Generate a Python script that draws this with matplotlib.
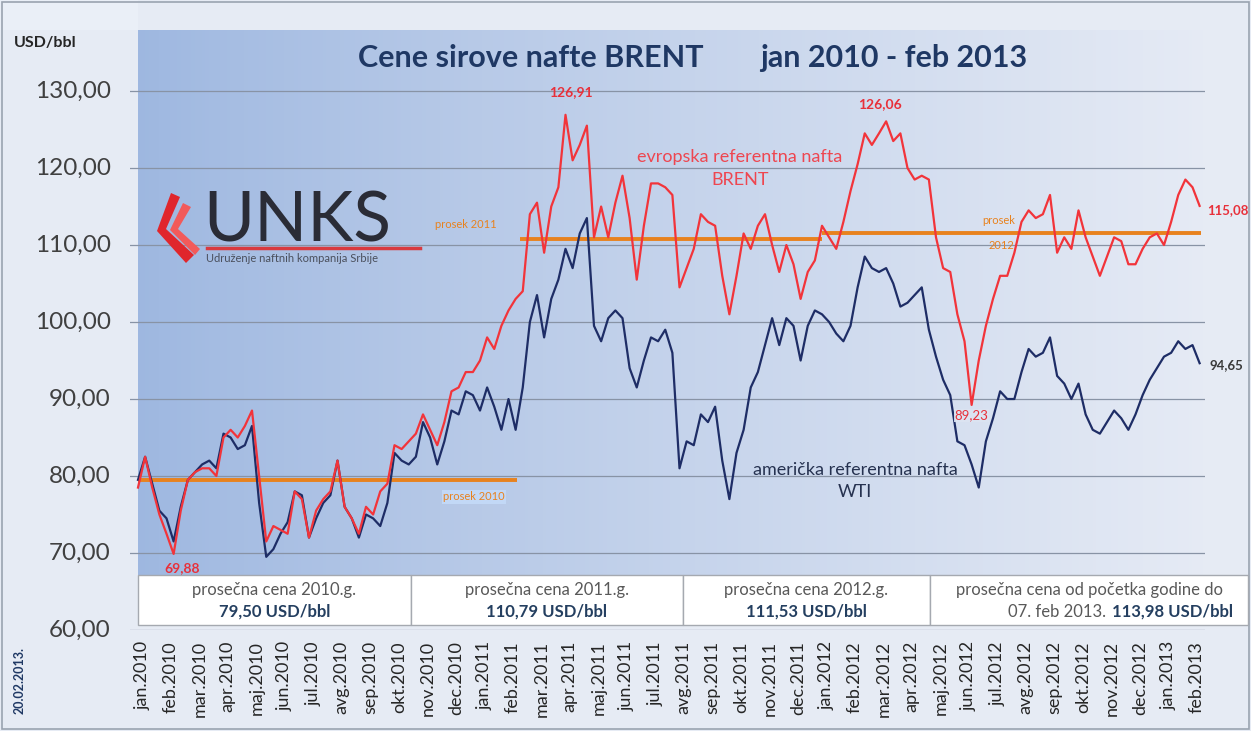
import numpy as np
import matplotlib
matplotlib.use('Agg')
import matplotlib.pyplot as plt
from matplotlib.patches import Rectangle, Polygon
from matplotlib.lines import Line2D

plt.rcParams['font.family'] = ['Lato', 'DejaVu Sans']

W, H = 1251, 731

# nedeljne vrednosti (4 po mesecu), jan 2010 - 7. feb 2013, USD/bbl
brent = [
    78.5, 82.5, 78.5, 75.0,  72.5, 69.88, 75.5, 79.5,  80.5, 81.0, 81.0, 80.0,
    85.0, 86.0, 85.0, 86.5,  88.5, 80.0, 71.5, 73.5,  73.0, 72.5, 78.0, 77.0,
    72.0, 75.5, 77.0, 78.0,  82.0, 76.0, 74.5, 72.5,  76.0, 75.0, 78.0, 79.0,
    84.0, 83.5, 84.5, 85.5,  88.0, 86.0, 84.0, 87.0,  91.0, 91.5, 93.5, 93.5,
    95.0, 98.0, 96.5, 99.5,  101.5, 103.0, 104.0, 114.0,  115.5, 109.0, 115.0, 117.5,
    126.91, 121.0, 123.0, 125.5,  111.0, 115.0, 111.0, 115.5,  119.0, 113.5, 105.5, 112.5,
    118.0, 118.0, 117.5, 116.5,  104.5, 107.0, 109.5, 114.0,  113.0, 112.5, 106.0, 101.0,
    106.0, 111.5, 109.5, 112.5,  114.0, 110.0, 106.5, 110.0,  107.5, 103.0, 106.5, 108.0,
    112.5, 111.0, 109.5, 113.0,  117.0, 120.5, 124.5, 123.0,  124.5, 126.06, 123.5, 124.5,
    120.0, 118.5, 119.0, 118.5,  111.0, 107.0, 106.5, 101.0,  97.5, 89.23, 95.0, 99.5,
    103.0, 106.0, 106.0, 109.0,  113.0, 114.5, 113.5, 114.0,  116.5, 109.0, 111.0, 109.5,
    114.5, 111.0, 108.5, 106.0,  108.5, 111.0, 110.5, 107.5,  107.5, 109.5, 111.0, 111.5,
    110.0, 113.0, 116.5, 118.5,  117.5, 115.08,
]
wti = [
    79.5, 82.5, 79.0, 75.5,  74.5, 71.5, 76.0, 79.5,  80.5, 81.5, 82.0, 81.0,
    85.5, 85.0, 83.5, 84.0,  86.5, 76.5, 69.5, 70.5,  72.5, 74.0, 78.0, 77.5,
    72.0, 74.5, 76.5, 77.5,  82.0, 76.0, 74.5, 72.0,  75.0, 74.5, 73.5, 76.5,
    83.0, 82.0, 81.5, 82.5,  87.0, 85.0, 81.5, 84.5,  88.5, 88.0, 91.0, 90.5,
    88.5, 91.5, 89.0, 86.0,  90.0, 86.0, 91.5, 100.0,  103.5, 98.0, 103.0, 105.5,
    109.5, 107.0, 111.5, 113.5,  99.5, 97.5, 100.5, 101.5,  100.5, 94.0, 91.5, 95.0,
    98.0, 97.5, 99.0, 96.0,  81.0, 84.5, 84.0, 88.0,  87.0, 89.0, 82.0, 77.0,
    83.0, 86.0, 91.5, 93.5,  97.0, 100.5, 97.0, 100.5,  99.5, 95.0, 99.5, 101.5,
    101.0, 100.0, 98.5, 97.5,  99.5, 104.5, 108.5, 107.0,  106.5, 107.0, 105.0, 102.0,
    102.5, 103.5, 104.5, 99.0,  95.5, 92.5, 90.5, 84.5,  84.0, 81.5, 78.5, 84.5,
    87.5, 91.0, 90.0, 90.0,  93.5, 96.5, 95.5, 96.0,  98.0, 93.0, 92.0, 90.0,
    92.0, 88.0, 86.0, 85.5,  87.0, 88.5, 87.5, 86.0,  88.0, 90.5, 92.5, 94.0,
    95.5, 96.0, 97.5, 96.5,  97.0, 94.65,
]
t = np.arange(len(brent)) * 0.25

# prosečne cene (od, do u mesecima, vrednost)
prosek_2010 = (0.0, 13.3, 79.50)
prosek_2011 = (13.4, 24.0, 110.79)
prosek_2012 = (24.0, 37.3, 111.53)

meseci = ['jan', 'feb', 'mar', 'apr', 'maj', 'jun', 'jul', 'avg', 'sep', 'okt', 'nov', 'dec']
godine = [2010, 2011, 2012, 2013]
xlabels = [m + '.' + str(g) for g in godine for m in meseci][:38]
yticks = [60, 70, 80, 90, 100, 110, 120, 130]

box_naslovi = ['prosečna cena 2010.g.', 'prosečna cena 2011.g.', 'prosečna cena 2012.g.',
               'prosečna cena od početka godine do']
box_vrednosti = ['79,50 USD/bbl', '110,79 USD/bbl', '111,53 USD/bbl', '113,98 USD/bbl']


def fx(x):
    return x / W


def fy(y):
    return 1 - y / H


fig = plt.figure(figsize=(W / 100, H / 100), dpi=100, facecolor='#E6EBF4')
fig.add_artist(Rectangle((fx(0), fy(30)), fx(138), (630 - 30) / H, transform=fig.transFigure,
                         facecolor='#EAEFF7', edgecolor='none'))
fig.add_artist(Rectangle((fx(2), fy(729)), fx(1247), 727 / H, transform=fig.transFigure,
                         facecolor='none', edgecolor='#9AA3B0', lw=1.2))

# pixel x = 138 + 28.5*t ; pixel y 630 -> 60, 30 -> vrh
ppm = 28.5
x0, x1 = (130 - 138) / ppm, (1205 - 138) / ppm
ytop = 130 + (91 - 30) / 7.698
ax = fig.add_axes([fx(130), fy(630), (1205 - 130) / W, 600 / H])
ax.set_facecolor('none')

# plavi gradijent u pozadini
c_left = np.array([0.62, 0.72, 0.88])
c_right = np.array([0.90, 0.92, 0.96])
s = np.linspace(0, 1, 300)[None, :, None]
grad = c_left + (c_right - c_left) * s ** 0.9
y_low = 130 - (575 - 91) / 7.698
ax.imshow(grad, extent=[0, (1203 - 138) / ppm, y_low, ytop], aspect='auto', zorder=0)

ax.set_xlim(x0, x1)
ax.set_ylim(60, ytop)
ax.set_yticks(yticks)
ax.set_yticklabels([])
ax.set_xticks(np.arange(38) + 0.15)
ax.set_xticklabels(xlabels, rotation=90, fontsize=13, color='#262626')
ax.tick_params(axis='both', length=0)
ax.tick_params(axis='x', pad=8)
ax.grid(axis='y', color='#8893A5', lw=0.9, zorder=1)
for sp in ax.spines.values():
    sp.set_visible(False)

# oznake y ose
for v in yticks:
    ypx = 91 + (130 - v) * 7.698
    fig.text(fx(111), fy(ypx), '%d,00' % v, fontsize=17.5, color='#404040', ha='right',
             va='center')

# linije proseka
for a, b, v in (prosek_2010, prosek_2011, prosek_2012):
    ax.plot([a, b], [v, v], color='#E8821E', lw=2.8, zorder=3, solid_capstyle='butt')

ax.plot(t, wti, color='#1E2D66', lw=1.6, zorder=4)
ax.plot(t, brent, color='#F2343A', lw=1.6, zorder=5)

# oznake vrednosti
b = np.array(brent)
w = np.array(wti)
i1 = int(np.argmax(b[:80]))
i2 = 80 + int(np.argmax(b[80:]))
i3 = int(np.argmin(b[:20]))
i4 = 100 + int(np.argmin(b[100:130]))
ax.text(t[i1] + 0.2, b[i1] + 2.2, '126,91', color='#E8303A', fontsize=10, fontweight='bold',
        ha='center', va='bottom', zorder=6)
ax.text(t[i2] - 0.2, b[i2] + 1.5, '126,06', color='#E8303A', fontsize=10, fontweight='bold',
        ha='center', va='bottom', zorder=6)
ax.text(t[i3] + 0.3, b[i3] - 1.0, '69,88', color='#E8303A', fontsize=10, fontweight='bold',
        ha='center', va='top', zorder=6)
ax.text(t[i4], b[i4] - 0.6, '89,23', color='#E8303A', fontsize=9.5, ha='center', va='top',
        zorder=6, bbox=dict(facecolor='#DCE4F2', edgecolor='none', pad=0.5, alpha=0.9))
ax.text(t[-1] + 0.25, b[-1] - 0.5, '115,08', color='#E8303A', fontsize=9.5, fontweight='bold',
        ha='left', va='center', zorder=6)
ax.text(t[-1] + 0.35, w[-1] - 0.3, '94,65', color='#3A3A3A', fontsize=9.5, fontweight='bold',
        ha='left', va='center', zorder=6)

# prosek natpisi
ax.text(11.8, prosek_2010[2] - 2.2, 'prosek 2010', color='#E8821E', fontsize=8, ha='center',
        va='center', zorder=6, bbox=dict(facecolor='#C2D8F6', edgecolor='none', pad=1))
ax.text(11.5, prosek_2011[2] + 1.9, 'prosek 2011', color='#E8821E', fontsize=8, ha='center',
        va='center', zorder=6)
ax.text(30.2, prosek_2012[2] + 1.7, 'prosek', color='#E8821E', fontsize=8, ha='center',
        va='center', zorder=6)
ax.text(30.3, prosek_2012[2] - 1.6, '2012', color='#E8821E', fontsize=8, ha='center',
        va='center', zorder=6)

# naslov i natpisi
fig.text(fx(358), fy(58), 'Cene sirove nafte BRENT', fontsize=22, fontweight='bold',
         color='#1F3864', ha='left', va='center')
fig.text(fx(760), fy(58), 'jan 2010 - feb 2013', fontsize=22, fontweight='bold',
         color='#1F3864', ha='left', va='center')
fig.text(fx(14), fy(43), 'USD/bbl', fontsize=11.5, fontweight='bold', color='#262626',
         ha='left', va='center')
fig.text(fx(20), fy(681), '20.02.2013.', fontsize=9, fontweight='bold', color='#1F3864',
         rotation=90, ha='center', va='center')
fig.text(fx(740), fy(157), 'evropska referentna nafta', fontsize=13, color='#EE4650',
         ha='center', va='center')
fig.text(fx(740), fy(180), 'BRENT', fontsize=13, color='#EE4650', ha='center', va='center')
fig.text(fx(855), fy(470), 'američka referentna nafta', fontsize=13, color='#263250',
         ha='center', va='center')
fig.text(fx(855), fy(492), 'WTI', fontsize=13, color='#263250', ha='center', va='center')

# logo UNKS
fig.add_artist(Polygon([(fx(171), fy(193)), (fx(180), fy(197)), (fx(166), fy(229)),
                        (fx(194), fy(255)), (fx(186), fy(263)), (fx(157), fy(231))],
                       closed=True, transform=fig.transFigure, facecolor='#E0262C',
                       edgecolor='none'))
fig.add_artist(Polygon([(fx(183), fy(203)), (fx(191), fy(207)), (fx(178), fy(229)),
                        (fx(200), fy(249)), (fx(195), fy(255)), (fx(170), fy(230))],
                       closed=True, transform=fig.transFigure, facecolor='#F25A5A',
                       edgecolor='none'))
fig.text(fx(203), fy(222), 'UNKS', fontsize=50, color='#2A2C36', ha='left', va='center')
fig.add_artist(Line2D([fx(207), fx(420)], [fy(248), fy(248)], transform=fig.transFigure,
                      color='#D93A3F', lw=2.5))
fig.text(fx(206), fy(259), 'Udruženje naftnih kompanija Srbije', fontsize=8, color='#4A4F5C',
         ha='left', va='center')

# okviri sa prosečnim cenama
granice = [138, 411, 683, 930, 1248]
for k in range(4):
    xa, xb = granice[k], granice[k + 1]
    fig.add_artist(Rectangle((fx(xa), fy(625)), (xb - xa) / W, 50 / H, transform=fig.transFigure,
                             facecolor='white', edgecolor='#A5A9B0', lw=1.0))
    xc = (xa + xb) / 2
    fig.text(fx(xc), fy(590), box_naslovi[k], fontsize=12, color='#595959', ha='center',
             va='center')
    if k < 3:
        fig.text(fx(xc), fy(612), box_vrednosti[k], fontsize=12, fontweight='bold',
                 color='#243F60', ha='center', va='center')
    else:
        fig.text(fx(1110), fy(612), '07. feb 2013. ', fontsize=12, color='#595959',
                 ha='right', va='center')
        fig.text(fx(1112), fy(612), box_vrednosti[k], fontsize=12, fontweight='bold',
                 color='#243F60', ha='left', va='center')

fig.savefig('out.png', dpi=100, facecolor=fig.get_facecolor())
